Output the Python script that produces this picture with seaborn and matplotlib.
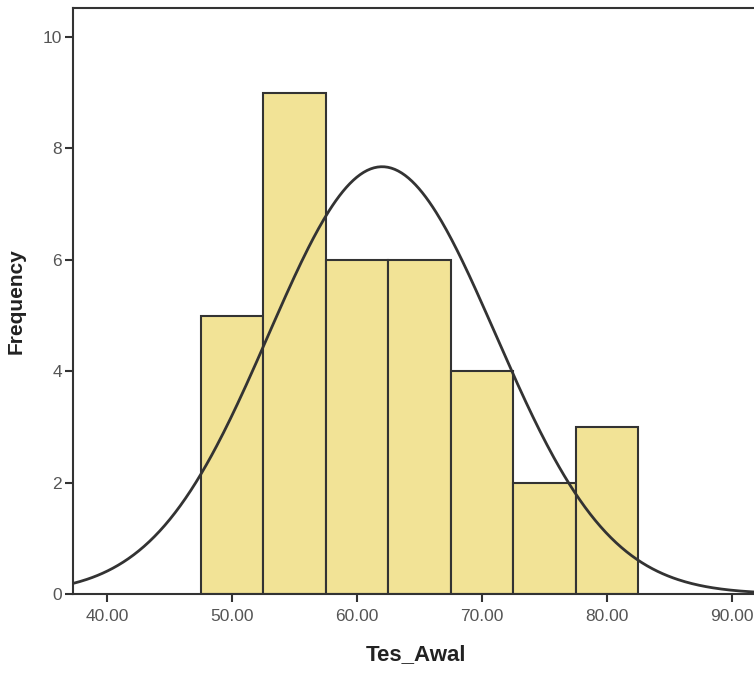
import matplotlib
matplotlib.use("Agg")
import matplotlib.pyplot as plt
import numpy as np
import seaborn as sns

# Histogram of Tes_Awal (SPSS style)
bin_centers = [50, 55, 60, 65, 70, 75, 80]
counts = [5, 9, 6, 6, 4, 2, 3]
bin_edges = [47.5, 52.5, 57.5, 62.5, 67.5, 72.5, 77.5, 82.5]
x_ticks = [40, 50, 60, 70, 80, 90]
y_ticks = [0, 2, 4, 6, 8, 10]
mean_val = 62.0
std_val = 9.1

sns.set_style("white")
plt.rcParams["font.family"] = ["Liberation Sans", "DejaVu Sans"]

fig = plt.figure(figsize=(7.54, 6.75), dpi=100)
ax = fig.add_axes([0.097, 0.12, 0.91, 0.868])

sns.histplot(
    x=bin_centers,
    weights=counts,
    bins=bin_edges,
    color="#F2E396",
    edgecolor="#333333",
    linewidth=1.5,
    alpha=1,
    ax=ax,
)

# normal curve scaled to counts
n = sum(counts)
width = bin_edges[1] - bin_edges[0]
xs = np.linspace(37.26, 92.5, 400)
ys = n * width * np.exp(-0.5 * ((xs - mean_val) / std_val) ** 2) / (std_val * np.sqrt(2 * np.pi))
sns.lineplot(x=xs, y=ys, color="#333333", linewidth=2, ax=ax)

ax.set_xlim(37.26, 92.2)
ax.set_ylim(0, 10.52)
ax.set_xticks(x_ticks)
ax.set_xticklabels([f"{v:.2f}" for v in x_ticks])
ax.set_yticks(y_ticks)
ax.tick_params(axis="both", bottom=True, left=True, direction="out", length=6, width=1.5,
               color="#333333", labelsize=12.5, labelcolor="#555555")
ax.tick_params(axis="x", pad=5)
ax.tick_params(axis="y", pad=2)
for s in ax.spines.values():
    s.set_color("#333333")
    s.set_linewidth(1.5)

ax.set_xlabel("Tes_Awal", fontsize=16, fontweight="bold", color="#222222", labelpad=14)
ax.set_ylabel("Frequency", fontsize=15, fontweight="bold", color="#222222", labelpad=12)

plt.savefig("out.png", dpi=100)
